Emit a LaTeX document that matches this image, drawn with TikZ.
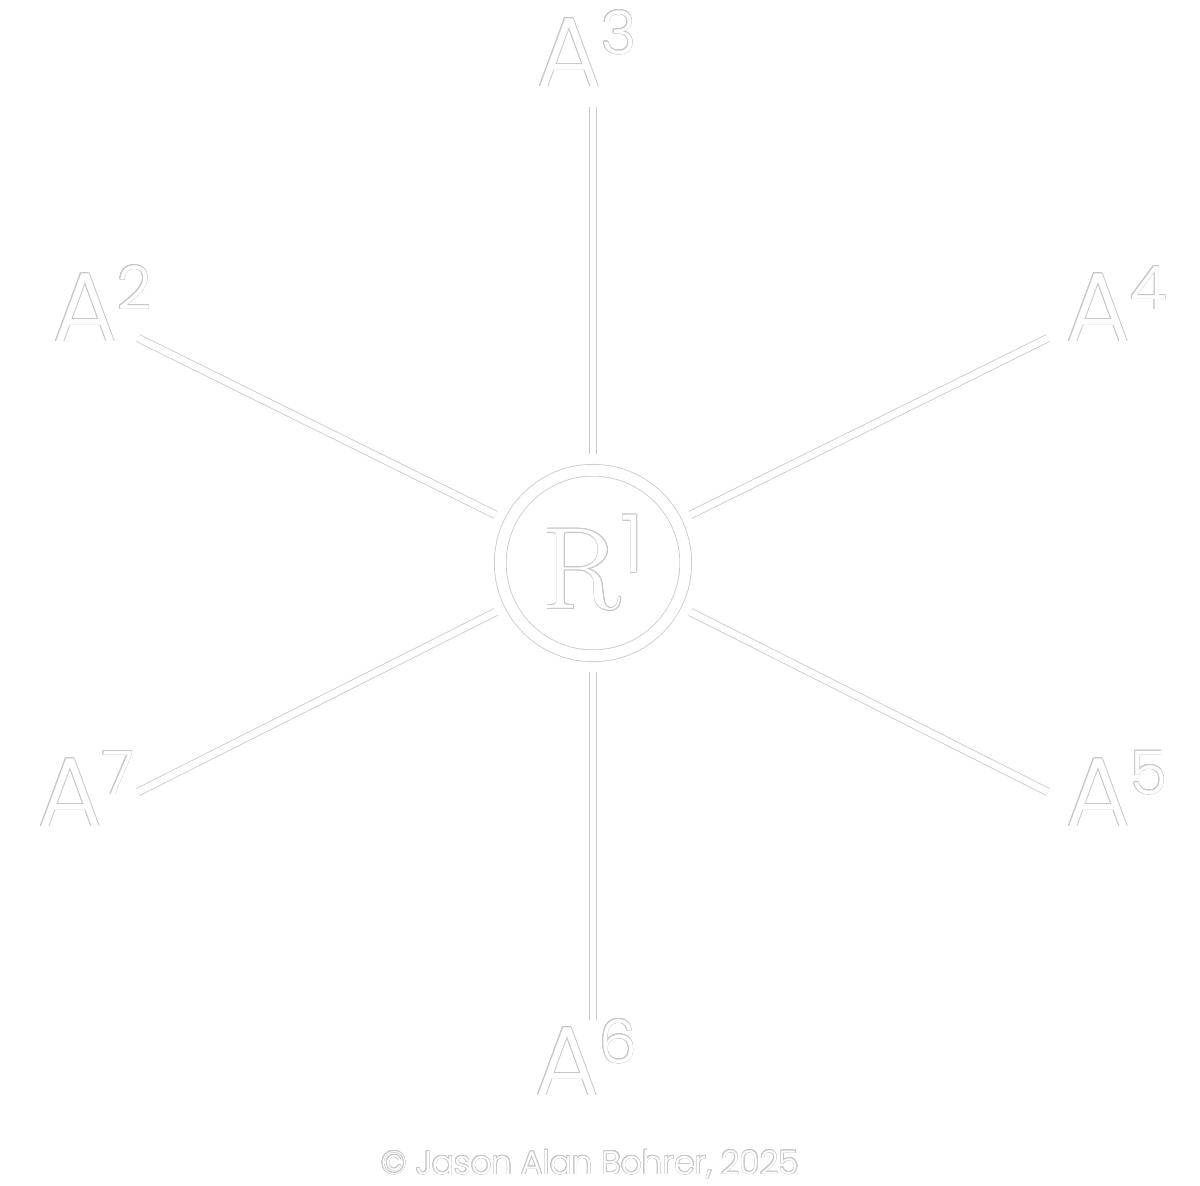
\documentclass[tikz,border=0pt]{standalone}
\usepackage{fontspec}
\newfontfamily\popfont{Poppins}[UprightFont=* Light]
\usepackage{contour}
\contourlength{0.3pt}
\definecolor{edge}{HTML}{C8C8C8}
\usetikzlibrary{positioning}
\tikzset{
  spoke/.style={draw=edge,line width=0.4pt,double=white,double distance=3.4pt},
  hub/.style={circle,draw=edge,line width=0.4pt,double=white,double distance=5.5pt,
              minimum size=92.75pt,inner sep=0,outer sep=8pt,text=white},
  lbl/.style={inner sep=0,anchor=base west,text=white,
              font=\popfont\fontsize{49}{49}\selectfont},
  credit/.style={inner sep=0,anchor=base,text=white,
                 font=\popfont\fontsize{16.3}{16.3}\selectfont}
}
\newcommand{\atomlbl}[1]{\contour{edge}{A\raisebox{16pt}{\fontsize{30}{30}\selectfont #1}}}

\begin{document}
\begin{tikzpicture}[x=0.5pt,y=-0.5pt]
    \fill[white] (0,0) rectangle (1200,1185);
    \useasboundingbox (0,0) rectangle (1200,1185);
    % hub
    \node[hub] (r1) at (593,563)
      {\contour{edge}{\fontsize{58}{58}\selectfont R\raisebox{18pt}{\popfont\fontsize{40}{40}\selectfont 1}}};
    % labels
    \node[lbl] (a3) at (537,86)   {\atomlbl{3}};
    \node[lbl] (a2) at (53,341)   {\atomlbl{2}};
    \node[lbl] (a4) at (1066,341) {\atomlbl{4}};
    \node[lbl] (a7) at (38,826)   {\atomlbl{7}};
    \node[lbl] (a5) at (1066,826) {\atomlbl{5}};
    \node[lbl] (a6) at (535,1095) {\atomlbl{6}};
    % spoke ends
    \coordinate (e3) at (593,107);
    \coordinate (e6) at (593,1020);
    \coordinate (e2) at (138,338);
    \coordinate (e4) at (1048,338);
    \coordinate (e7) at (138,792);
    \coordinate (e5) at (1048,792);
    \foreach \n in {2,...,7}
      \draw[spoke] (r1) -- (e\n);
    \node[credit] (cr) at (590,1174) {\contour{edge}{© Jason Alan Bohrer, 2025}};
  \end{tikzpicture}
\end{document}
